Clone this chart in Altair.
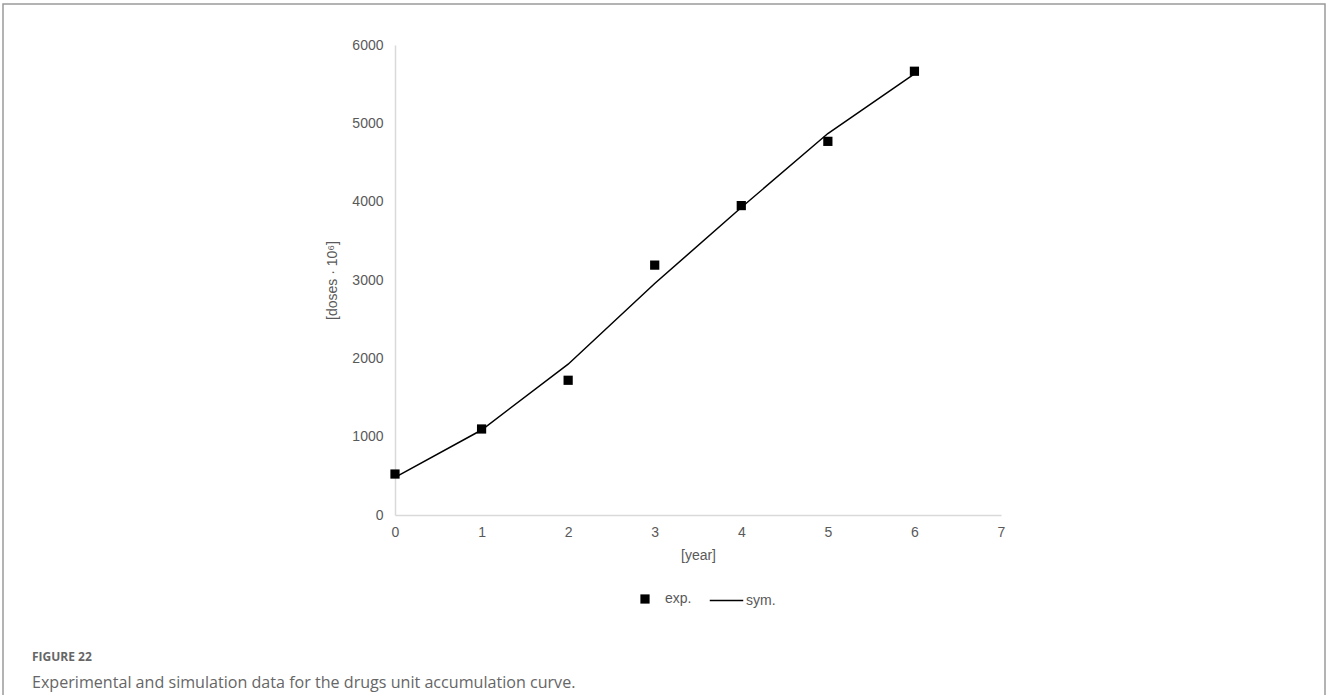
import altair as alt
import pandas as pd

years = [0, 1, 2, 3, 4, 5, 6]
exp_vals = [523, 1098, 1720, 3190, 3950, 4770, 5665]
sym_vals = [480, 1085, 1925, 2955, 3925, 4870, 5630]

caption_label = "FIGURE 22"
caption_text = "Experimental and simulation data for the drugs unit accumulation curve."

df_exp = pd.DataFrame({"year": years, "val": exp_vals, "s": ["exp."] * len(years)})
df_sym = pd.DataFrame({"year": years, "val": sym_vals, "s": ["sym."] * len(years)})

W, H = 606, 470
PL, PT = 395, 45
font = "Liberation Sans"
gray = "#595959"

xscale = alt.Scale(domain=[0, 7], nice=False, zero=True)
yscale = alt.Scale(domain=[0, 6000], nice=False)

xaxis = alt.Axis(values=list(range(8)), format="d", ticks=False, grid=False, domainColor="#d9d9d9",
                 domainWidth=1.5, labelColor=gray, labelFont=font, labelFontSize=14,
                 labelFlush=False, labelPadding=10, title="[year]", titleFont=font,
                 titleFontSize=14, titleFontWeight="normal", titleColor=gray, titlePadding=9)
yaxis = alt.Axis(values=list(range(0, 6001, 1000)), format="d", ticks=False, grid=False,
                 domainColor="#d9d9d9", domainWidth=1.5, labelColor=gray, labelFont=font,
                 labelFontSize=14, labelFlush=False, labelPadding=12, title="[doses · 10⁶]",
                 titleFont=font, titleFontSize=14, titleFontWeight="normal", titleColor=gray,
                 titlePadding=12)

line = alt.Chart(df_sym).mark_line(strokeWidth=1.5).encode(
    x=alt.X("year:Q", scale=xscale, axis=xaxis),
    y=alt.Y("val:Q", scale=yscale, axis=yaxis),
    stroke=alt.Stroke("s:N", scale=alt.Scale(domain=["sym."], range=["black"]),
                      legend=alt.Legend(orient="none", legendX=314, legendY=538, title=None,
                                        symbolType="stroke", symbolSize=1120,
                                        symbolStrokeWidth=1.5, labelFont=font,
                                        labelFontSize=14, labelColor=gray, labelOffset=2)),
)

points = alt.Chart(df_exp).mark_point(filled=True, opacity=1, size=85).encode(
    x=alt.X("year:Q", scale=xscale, axis=xaxis),
    y=alt.Y("val:Q", scale=yscale, axis=yaxis),
    shape=alt.Shape("s:N", scale=alt.Scale(domain=["exp."], range=["square"]),
                    legend=alt.Legend(orient="none", legendX=243, legendY=547, title=None,
                                      symbolSize=85, symbolFillColor="black",
                                      symbolStrokeColor="black", symbolOpacity=1,
                                      labelFont=font, labelFontSize=14, labelColor=gray,
                                      labelOffset=13)),
    color=alt.value("black"),
)

frame = alt.Chart(pd.DataFrame({"a": [0]})).mark_rect(
    fill=None, stroke="#9a9a9a", strokeWidth=1.5
).encode(x=alt.value(3 - PL), x2=alt.value(1325 - PL), y=alt.value(4 - PT), y2=alt.value(720 - PT))

cap1 = alt.Chart(pd.DataFrame({"t": [caption_label]})).mark_text(
    align="left", baseline="middle", font="Open Sans", fontSize=12, fontWeight="bold", color="#666666"
).encode(x=alt.value(32 - PL), y=alt.value(657 - PT), text="t:N")

cap2 = alt.Chart(pd.DataFrame({"t": [caption_text]})).mark_text(
    align="left", baseline="middle", font="Open Sans", fontSize=16.1, color="#666666"
).encode(x=alt.value(32 - PL), y=alt.value(683 - PT), text="t:N")

chart = alt.layer(frame, line, points, cap1, cap2).resolve_legend(
    shape="independent", stroke="independent"
).properties(
    width=W, height=H,
    autosize=alt.AutoSizeParams(type="none"),
    padding={"left": PL, "top": PT, "right": 1328 - PL - W, "bottom": 695 - PT - H},
    background="white",
).configure_view(stroke=None)

chart.save("out.html", embed_options={"renderer": "svg", "actions": False})
